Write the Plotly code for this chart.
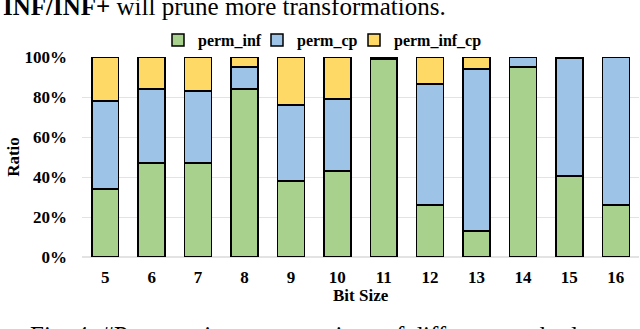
import plotly.graph_objects as go

bit_size = ["5", "6", "7", "8", "9", "10", "11", "12", "13", "14", "15", "16"]
perm_inf = [34, 47, 47, 84, 38, 43, 98.8, 26, 13, 95, 40.5, 26]
perm_cp = [44, 37, 36, 11, 38, 36, 0.7, 60.5, 81, 5, 59, 74]
perm_inf_cp = [22, 16, 17, 5, 24, 21, 0.5, 13.5, 6, 0, 0.5, 0]

W, H = 640, 329
L, R, T, B = 82, 1, 57, 72
pw, ph = W - L - R, H - T - B

def px_x(x):
    return (x - L) / pw

def px_y(y):
    return (H - B - y) / ph

serif = "Liberation Serif, Times New Roman, serif"

series = [("perm_inf", perm_inf, "#A9D18E", "legend", 158),
          ("perm_cp", perm_cp, "#9DC3E6", "legend2", 257),
          ("perm_inf_cp", perm_inf_cp, "#FFD966", "legend3", 354)]

fig = go.Figure()
for name, vals, col, leg, lx in series:
    fig.add_trace(go.Bar(x=bit_size, y=vals, name=name, legend=leg,
                         marker=dict(color=col, line=dict(color="black", width=1.5))))
    fig.update_layout({leg: dict(x=px_x(lx), y=px_y(40), xanchor="left", yanchor="middle",
                                 font=dict(size=16, family=serif, weight="bold"),
                                 bgcolor="rgba(0,0,0,0)")})

fig.update_layout(
    width=W, height=H,
    margin=dict(l=L, r=R, t=T, b=B),
    barmode="stack", bargap=0.42,
    plot_bgcolor="white", paper_bgcolor="white",
    font=dict(family=serif, size=17, color="black"),
    showlegend=True,
    xaxis=dict(type="category", tickfont=dict(size=17, weight="bold"), ticks="",
               showline=False, ticklabelstandoff=8),
    yaxis=dict(range=[0, 100], dtick=20, ticksuffix="%", tickfont=dict(size=17, weight="bold"),
               showgrid=True, gridcolor="#e3e3e3", gridwidth=1, zeroline=True,
               zerolinecolor="#e3e3e3", showline=False, ticklabelstandoff=14,
               title=dict(text="<b>Ratio</b>", font=dict(size=17), standoff=0)),
)

fig.add_annotation(xref="paper", yref="paper", x=0.5, y=px_y(295), xanchor="center",
                   yanchor="middle", showarrow=False, text="<b>Bit Size</b>",
                   font=dict(family=serif, size=17))
fig.add_annotation(xref="paper", yref="paper", x=px_x(1), y=px_y(16), xanchor="left",
                   yanchor="bottom", yshift=-6, showarrow=False,
                   text="<b>INF/INF+</b> will prune more transformations.",
                   font=dict(family=serif, size=25))
fig.add_annotation(xref="paper", yref="paper", x=px_x(28), y=px_y(320), xanchor="left",
                   yanchor="top", showarrow=False,
                   text="Fig. 4: #Permutation enumerations of different methods",
                   font=dict(family=serif, size=25))

fig.write_html("out.html", config={"displayModeBar": False},
               post_script="document.body.style.margin='0';")
